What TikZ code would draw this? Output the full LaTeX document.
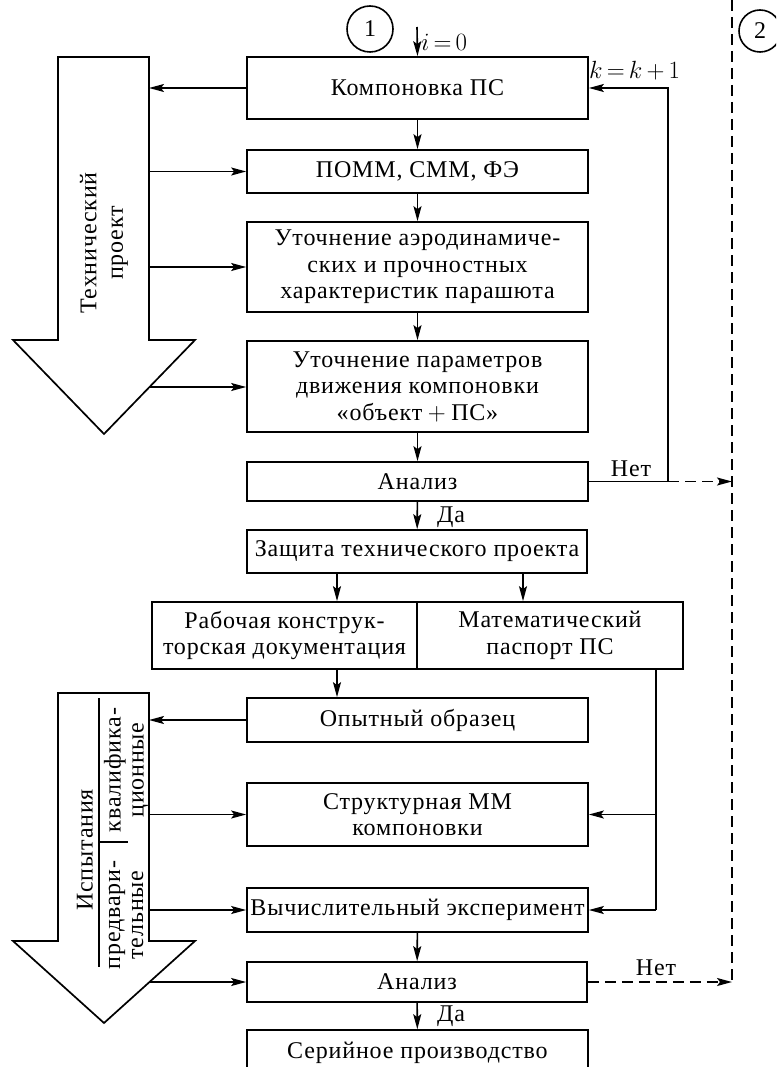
\documentclass[tikz,border=0pt]{standalone}
\usepackage{fontspec}
\setmainfont[LetterSpace=3.5]{Liberation Serif}
\usetikzlibrary{arrows.meta}
\begin{document}
\begin{tikzpicture}[x=1pt,y=-1pt,
  every node/.style={font=\fontsize{24}{26.5}\selectfont},
  blk/.style={draw, line width=1.7pt, inner sep=0pt, align=center, fill=white},
  arr/.style={line width=1.6pt, -{Stealth[length=15pt,width=8pt,inset=3pt]}},
  ln/.style={line width=1.6pt},
  dsh/.style={line width=1.6pt, dash pattern=on 11pt off 6pt},
  bigarrow/.style={draw, line width=1.7pt, fill=white, line join=miter},
  lbl/.style={inner sep=0pt},
  tight/.style={font=\fontsize{24}{23}\selectfont},
  numcirc/.style={draw, circle, line width=1.6pt, inner sep=0pt}]
\useasboundingbox (0,0) rectangle (776,1067);
\clip (0,0) rectangle (776,1067);

% large stage arrows on the left
\draw[bigarrow] (58,57) -- (149,57) -- (149,340) -- (195,340) -- (104,434)
  -- (13,340) -- (58,340) -- cycle;
\draw[bigarrow] (58,693) -- (149,693) -- (149,941) -- (195,941) -- (104,1023)
  -- (13,941) -- (58,941) -- cycle;
\node[rotate=90, align=center, lbl] (tp) at (104,243) {Технический\\проект};
\node[rotate=90, lbl] (isp) at (85,850) {Испытания};
\draw[ln] (99,698) -- (99,967);
\draw[ln] (99,842) -- (128,842);
\node[rotate=90, align=center, lbl, tight] (kval) at (126,770) {квалифика-\\ционные};
\node[rotate=90, align=center, lbl, tight] (pred) at (126,915) {предвари-\\тельные};

% shaft edges and head edges of the stage arrows
\coordinate (s1) at (149,0);
\coordinate (h1) at (149.5,387);
\coordinate (h2) at (149.5,982);

% main column
\node[blk, minimum width=341pt, minimum height=62pt] (b1) at (417.5,88) {Компоновка ПС};
\node[blk, minimum width=341pt, minimum height=43pt] (b2) at (417.5,171.5) {ПОММ, СММ, ФЭ};
\node[blk, minimum width=341pt, minimum height=90pt] (b3) at (417.5,267)
  {Уточнение аэродинамиче-\\ских и прочностных\\характеристик парашюта};
\node[blk, minimum width=341pt, minimum height=91pt] (b4) at (417.5,386.5)
  {Уточнение параметров\\движения компоновки\\«объект${}+{}$ПС»};
\node[blk, minimum width=341pt, minimum height=39pt] (b5) at (417.5,481.5) {Анализ};
\node[blk, minimum width=340pt, minimum height=43pt] (b6) at (417,551.5) {Защита технического проекта};
\node[blk, minimum width=265pt, minimum height=67pt] (b7L) at (284.5,635.5)
  {Рабочая конструк-\\торская документация};
\node[blk, minimum width=266pt, minimum height=67pt] (b7R) at (550,635.5)
  {Математический\\паспорт ПС};
\node[blk, minimum width=341pt, minimum height=44pt] (b8) at (417.5,720) {Опытный образец};
\node[blk, minimum width=341pt, minimum height=63pt] (b9) at (417.5,814.5)
  {Структурная ММ\\компоновки};
\node[blk, minimum width=341pt, minimum height=44pt] (b10) at (417.5,910) {Вычислительный эксперимент};
\node[blk, minimum width=340pt, minimum height=40pt] (b11) at (417,982) {Анализ};
\node[blk, minimum width=341pt, minimum height=46pt] (b12) at (417.5,1053) {Серийное производство};

% circled stage numbers
\node[numcirc, minimum size=46pt] (c1) at (370,29) {1};
\node[numcirc, minimum size=42pt] (c2) at (760,31) {2};

% entry arrow
\coordinate (start) at (417,27);
\draw[arr] (start) -- (b1.north);
\node[lbl, anchor=west] (i0) at (421,42) {$i\,{=}\,0$};

% vertical flow
\draw[arr] (b1) -- (b2);
\draw[arr] (b2) -- (b3);
\draw[arr] (b3) -- (b4);
\draw[arr] (b4) -- (b5);
\draw[arr] (b5) -- (b6);
\node[lbl, anchor=west] (da1) at (437,517) {Да};
\coordinate (cL) at (337,0);
\coordinate (cR) at (523,0);
\draw[arr] (b6.south -| cL) -- (b7L.north -| cL);
\draw[arr] (b6.south -| cR) -- (b7R.north -| cR);
\draw[arr] (b7L.south -| cL) -- (b8.north -| cL);
\draw[arr] (b10) -- (b11);
\draw[arr] (b11) -- (b12);
\node[lbl, anchor=west] (da2) at (437,1016) {Да};

% links with the stage arrows
\draw[arr] (b1.west) -- (b1.west -| s1);
\draw[arr] (b2.west -| s1) -- (b2.west);
\draw[arr] (b3.west -| s1) -- (b3.west);
\draw[arr] (h1) -- (h1 -| b4.west);
\draw[arr] (b8.west) -- (b8.west -| s1);
\draw[arr] (b9.west -| s1) -- (b9.west);
\draw[arr] (b10.west -| s1) -- (b10.west);
\draw[arr] (h2) -- (h2 -| b11.west);

% iteration loop
\coordinate (loop) at (668,481.5);
\draw[ln] (b5.east) -- (loop);
\draw[arr] (loop) -- (loop |- b1.east) -- (b1.east);
\node[lbl, anchor=west] (kk) at (589,71) {$k\,{=}\,k\,{+}\,1$};
\node[lbl] (net1) at (631,469) {Нет};

% passport feeds
\coordinate (pp) at (656,0);
\draw[ln] (b7R.south -| pp) -- (b10.east -| pp);
\draw[arr] (b9.east -| pp) -- (b9.east);
\draw[arr] (b10.east -| pp) -- (b10.east);

% return to stage 2
\coordinate (dtop) at (732,0);
\coordinate (dbot) at (732,982);
\draw[dsh] (dtop) -- (dbot);
\draw[dsh, arr] (loop) -- (loop -| dtop);
\draw[dsh, arr] (b11.east) -- (dbot);
\node[lbl] (net2) at (656,968) {Нет};
\end{tikzpicture}
\end{document}
